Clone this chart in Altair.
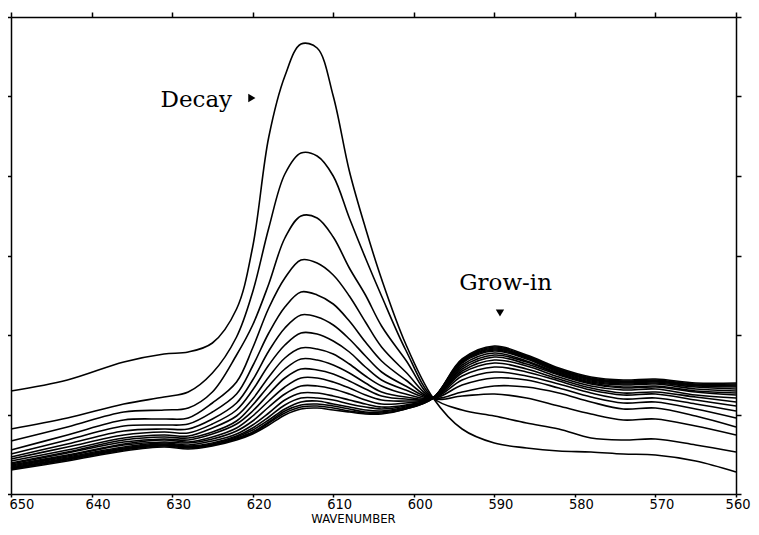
import altair as alt
import pandas as pd

# wavenumber grid (cm-1) at which the curves were read
wavenumber = [650, 643, 636, 631, 628, 625, 622, 620, 618, 616, 614, 612, 610, 608,
              606, 604, 601, 597.6, 594, 590, 586, 582, 578, 574, 570, 565, 560]

# absorbance (arbitrary units) of successive scans, earliest first
s01 = [103, 114, 132, 140, 142, 151, 185, 247, 357, 418, 450, 446, 398, 323, 266, 215, 150, 96, 65, 51, 46, 43, 42, 40, 39, 33, 22]
s02 = [65, 76, 90, 97, 102, 121, 157, 202, 266, 320, 341, 338, 318, 276, 236, 198, 144, 96, 84, 78, 71, 65, 56, 54, 55, 49, 42]
s03 = [53, 67, 82, 84, 86, 102, 139, 169, 210, 256, 278, 276, 257, 226, 199, 168, 134, 96, 98, 100, 96, 88, 80, 74, 75, 68, 59]
s04 = [44, 59, 74, 75, 76, 91, 112, 146, 186, 216, 234, 231, 219, 198, 172, 147, 122, 96, 102, 108, 107, 101, 92, 85, 86, 78, 67]
s05 = [40, 54, 68, 69, 70, 82, 100, 128, 161, 187, 202, 199, 190, 173, 152, 133, 114, 96, 109, 116, 114, 106, 97, 91, 92, 85, 76]
s06 = [37, 50, 63, 65, 65, 75, 91, 114, 143, 166, 179, 177, 169, 155, 138, 122, 108, 96, 114, 122, 118, 110, 101, 95, 96, 90, 83]
s07 = [35, 47, 59, 62, 61, 70, 84, 104, 129, 149, 161, 160, 153, 142, 127, 114, 104, 96, 118, 127, 122, 113, 104, 99, 100, 94, 88]
s08 = [33, 44, 56, 59, 58, 66, 78, 95, 117, 136, 146, 145, 140, 130, 118, 108, 100, 96, 121, 131, 125, 115, 106, 101, 102, 97, 92]
s09 = [31, 42, 54, 57, 56, 62, 73, 89, 108, 125, 135, 134, 129, 121, 111, 102, 97, 96, 123, 134, 128, 117, 108, 104, 105, 99, 96]
s10 = [30, 41, 52, 55, 54, 60, 70, 83, 100, 116, 125, 124, 120, 113, 105, 98, 95, 96, 125, 137, 130, 119, 110, 106, 107, 102, 99]
s11 = [29, 39, 50, 54, 52, 57, 66, 78, 93, 107, 116, 116, 112, 106, 99, 94, 93, 96, 127, 139, 132, 120, 111, 107, 108, 103, 101]
s12 = [28, 38, 49, 52, 51, 55, 63, 73, 87, 100, 108, 108, 105, 100, 94, 90, 91, 96, 129, 141, 133, 121, 112, 109, 110, 105, 103]
s13 = [27, 37, 47, 51, 49, 53, 60, 69, 81, 94, 101, 101, 98, 94, 90, 87, 89, 96, 131, 143, 135, 122, 113, 110, 111, 107, 105]
s14 = [26, 36, 46, 50, 48, 51, 58, 66, 77, 89, 96, 96, 94, 90, 87, 85, 88, 96, 132, 144, 136, 123, 114, 111, 112, 108, 107]
s15 = [26, 35, 45, 49, 47, 50, 57, 64, 74, 85, 92, 93, 90, 87, 84, 83, 87, 96, 133, 145, 137, 124, 115, 112, 113, 109, 108]
s16 = [25, 35, 45, 49, 47, 49, 56, 62, 72, 83, 89, 90, 88, 85, 82, 82, 86, 96, 133, 146, 137, 124, 115, 112, 113, 109, 109]
s17 = [25, 34, 44, 48, 46, 49, 55, 61, 71, 81, 87, 88, 86, 83, 81, 81, 85, 96, 134, 147, 138, 125, 116, 113, 114, 110, 110]
s18 = [24, 33, 43, 47, 45, 48, 54, 60, 69, 79, 85, 86, 84, 82, 80, 80, 85, 96, 135, 148, 139, 126, 117, 114, 115, 111, 111]

scans = [s01, s02, s03, s04, s05, s06, s07, s08, s09, s10, s11, s12, s13, s14, s15, s16, s17, s18]

x_ticks = [650, 640, 630, 620, 610, 600, 590, 580, 570, 560]
y_ticks = [0, 79.5, 159, 238.5, 318, 397.5, 477]

ann_text = ["Decay", "Grow-in"]
ann_w = [627.0, 588.6]
ann_a = [394, 211]
mark_w = [620.1, 589.3]
mark_a = [396, 181]
mark_shape = ["triangle-right", "triangle-down"]

rows = []
for i, s in enumerate(scans):
    for w, a in zip(wavenumber, s):
        rows.append({"scan": i + 1, "wavenumber": w, "absorbance": a})
df = pd.DataFrame(rows)

ann_df = pd.DataFrame({"label": ann_text, "wavenumber": ann_w, "absorbance": ann_a})
mk_df = pd.DataFrame({"shape": mark_shape, "wavenumber": mark_w, "absorbance": mark_a})

xscale = alt.Scale(domain=[560, 650], reverse=True, nice=False, zero=False)
yscale = alt.Scale(domain=[0, 477], nice=False, zero=False)

LABEL_FONT = "DejaVu Sans Condensed, Liberation Sans Narrow, DejaVu Sans"

lines = alt.Chart(df).mark_line(color="black", strokeWidth=1.6, interpolate="catmull-rom").encode(
    x=alt.X("wavenumber:Q", scale=xscale,
            axis=alt.Axis(values=x_ticks, format="d", title="WAVENUMBER", orient="bottom",
                          labelFont=LABEL_FONT, labelFontSize=14.5, labelColor="black",
                          labelPadding=0, labelOffset=6, tickSize=3, labelFlush=True,
                          labelFlushOffset=8, titleFont=LABEL_FONT,
                          titleFontSize=13, titleFontWeight="normal", titleColor="black",
                          titlePadding=2, titleX=342)),
    y=alt.Y("absorbance:Q", scale=yscale,
            axis=alt.Axis(values=y_ticks, labels=False, title=None, orient="left", tickSize=5)),
    detail="scan:N",
)

texts = alt.Chart(ann_df).mark_text(font="DejaVu Serif", fontSize=23, color="black").encode(
    x=alt.X("wavenumber:Q", scale=xscale,
            axis=alt.Axis(values=x_ticks, labels=False, title=None, orient="top", tickSize=5)),
    y=alt.Y("absorbance:Q", scale=yscale,
            axis=alt.Axis(values=y_ticks, labels=False, title=None, orient="right", tickSize=5)),
    text="label:N",
)

markers = alt.Chart(mk_df).mark_point(filled=True, color="black", size=70, opacity=1).encode(
    x=alt.X("wavenumber:Q", scale=xscale, axis=None),
    y=alt.Y("absorbance:Q", scale=yscale, axis=None),
    shape=alt.Shape("shape:N", scale=None, legend=None),
)

chart = alt.layer(lines, texts, markers).resolve_axis(x="independent", y="independent").properties(
    width=725, height=477,
    autosize=alt.AutoSizeParams(type="none"),
    padding={"left": 3, "top": 9, "right": 15, "bottom": 33},
    background="white",
).configure_view(stroke=None).configure_axis(
    grid=False, domainColor="black", domainWidth=1.5, tickColor="black", tickWidth=1.5,
)

chart.save("out.html", embed_options={"renderer": "svg", "actions": False})
